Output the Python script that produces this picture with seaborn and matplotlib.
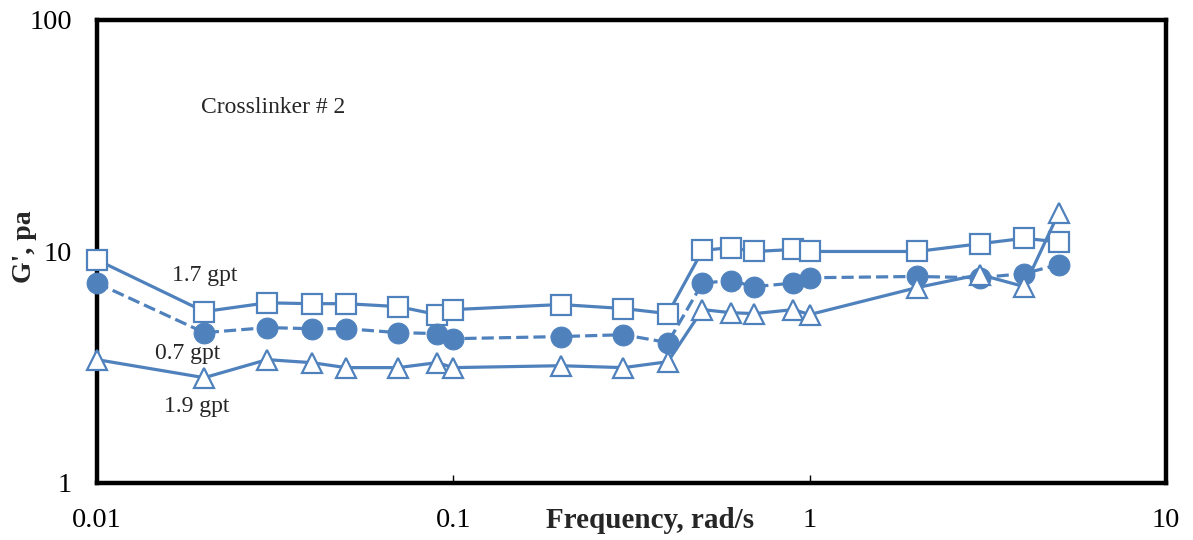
import pandas as pd
import matplotlib
matplotlib.use("Agg")
import matplotlib.pyplot as plt
import seaborn as sns

# data
freq = [0.01, 0.02, 0.03, 0.04, 0.05, 0.07, 0.09, 0.1, 0.2, 0.3, 0.4,
        0.5, 0.6, 0.7, 0.9, 1, 2, 3, 4, 5]
g_17 = [9.2, 5.5, 6.0, 5.95, 5.95, 5.78, 5.34, 5.61, 5.9, 5.67, 5.39,
        10.1, 10.4, 10.0, 10.2, 10.0, 10.0, 10.8, 11.4, 11.0]
g_07 = [7.3, 4.46, 4.69, 4.64, 4.64, 4.46, 4.42, 4.2, 4.29, 4.37, 4.04,
        7.3, 7.49, 7.05, 7.3, 7.7, 7.8, 7.7, 8.03, 8.78]
g_19 = [3.41, 2.85, 3.41, 3.31, 3.15, 3.15, 3.31, 3.15, 3.21, 3.15, 3.34,
        5.61, 5.44, 5.39, 5.61, 5.34, 6.98, 7.95, 7.05, 14.7]

x_ticks = [0.01, 0.1, 1, 10]
x_tick_labels = ["0.01", "0.1", "1", "10"]
y_ticks = [1, 10, 100]
y_tick_labels = ["1", "10", "100"]

df = pd.DataFrame({"freq": freq, "g17": g_17, "g07": g_07, "g19": g_19})

sns.set_theme(style="white")
plt.rcParams["font.family"] = ["Liberation Serif", "DejaVu Serif"]

fig = plt.figure(figsize=(11.93, 5.4), dpi=100)
ax = fig.add_axes([0.0813, 0.1056, 0.8961, 0.8574])

blue = "#4F81BD"

sns.lineplot(data=df, x="freq", y="g17", ax=ax, color=blue, lw=2.3,
             marker="s", markersize=14, markerfacecolor="white",
             markeredgecolor=blue, markeredgewidth=1.6, estimator=None,
             sort=False, clip_on=False)
sns.lineplot(data=df, x="freq", y="g07", ax=ax, color=blue, lw=2.3,
             linestyle=(0, (3.8, 1.6)), marker="o", markersize=15,
             markerfacecolor=blue, markeredgecolor=blue, estimator=None,
             sort=False, clip_on=False)
sns.lineplot(data=df, x="freq", y="g19", ax=ax, color=blue, lw=2.3,
             marker="^", markersize=15, markerfacecolor="white",
             markeredgecolor=blue, markeredgewidth=1.6, estimator=None,
             sort=False, clip_on=False)

ax.set_xscale("log")
ax.set_yscale("log")
ax.set_xlim(0.01, 10)
ax.set_ylim(1, 100)
ax.set_xticks(x_ticks)
ax.set_xticklabels(x_tick_labels)
ax.set_yticks(y_ticks)
ax.set_yticklabels(y_tick_labels)
ax.minorticks_off()
ax.tick_params(axis="both", direction="in", length=6, width=1, colors="black",
               labelsize=20.5, left=True, bottom=True)
ax.tick_params(axis="x", pad=18)
ax.tick_params(axis="y", pad=18)

for s in ax.spines.values():
    s.set_color("black")
    s.set_linewidth(3.2)
    s.set_zorder(1)

ax.set_xlabel("Frequency, rad/s", fontsize=21, fontweight="bold")
ax.xaxis.set_label_coords(0.517, -0.052)
ax.set_ylabel("G', pa", fontsize=20, fontweight="bold")
ax.yaxis.set_label_coords(-0.056, 0.51)

ax.text(0.0201, 7.84, "1.7 gpt", fontsize=17, ha="center", va="center")
ax.text(0.0180, 3.64, "0.7 gpt", fontsize=17, ha="center", va="center")
ax.text(0.0190, 2.13, "1.9 gpt", fontsize=17, ha="center", va="center")
ax.text(0.0312, 41.7, "Crosslinker # 2", fontsize=17, ha="center", va="center")

fig.savefig("out.png", dpi=100)
